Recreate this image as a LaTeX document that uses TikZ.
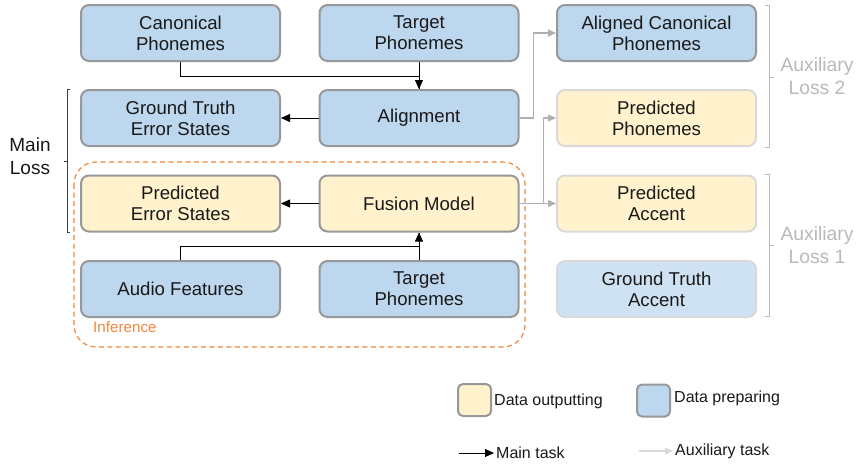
\documentclass[tikz,border=0pt]{standalone}
\usepackage{fontspec}
\setmainfont{Liberation Sans}
\usetikzlibrary{arrows.meta,calc}
\definecolor{bblue}{RGB}{189,215,238}
\definecolor{byellow}{RGB}{255,242,204}
\definecolor{bborder}{RGB}{152,152,152}
\definecolor{lborder}{RGB}{217,217,217}
\definecolor{gtblue}{RGB}{207,226,243}
\definecolor{iorange}{RGB}{240,135,60}
\definecolor{agray}{RGB}{175,175,175}
\definecolor{tgray}{RGB}{185,185,185}
\definecolor{txt}{RGB}{25,25,25}
\tikzset{
  box/.style={draw=bborder, line width=2pt, rounded corners=8pt, minimum width=199pt,
    minimum height=56pt, align=center, inner sep=0pt, text=txt,
    font=\fontsize{18.6}{21}\selectfont},
  lbox/.style={box, draw=lborder},
  mainarr/.style={draw=black, line width=0.8pt, -{Triangle[length=9pt,width=8pt]}},
  mainln/.style={draw=black, line width=0.8pt},
  auxarr/.style={draw=agray, line width=1.2pt, -{Triangle[length=8pt,width=7pt]}},
  bracketm/.style={draw=black!75, line width=0.8pt},
  bracketa/.style={draw=tgray, line width=0.9pt},
  legbox/.style={draw=bborder, line width=2pt, rounded corners=5pt, minimum width=33pt, minimum height=32pt, inner sep=0pt},
  legtxt/.style={font=\fontsize{16}{18}\selectfont, text=txt, inner sep=1pt, anchor=west},
}
\begin{document}
\begin{tikzpicture}[x=1pt,y=-1pt]
\useasboundingbox (0,0) rectangle (859,466);
% row 1
\node[box, fill=bblue] (can) at (180.5,33) {Canonical\\Phonemes};
\node[box, fill=bblue] (tgt1) at (419,33) {Target\\Phonemes};
\node[box, fill=bblue] (acp) at (656.5,33) {Aligned Canonical\\Phonemes};
% row 2
\node[box, fill=bblue] (gtes) at (180.5,118) {Ground Truth\\Error States};
\node[box, fill=bblue] (align) at (419,118) {Alignment};
\node[lbox, fill=byellow] (pp) at (656.5,118) {Predicted\\Phonemes};
% row 3
\node[box, fill=byellow] (pes) at (180.5,203.5) {Predicted\\Error States};
\node[box, fill=byellow] (fusion) at (419,203.5) {Fusion Model};
\node[lbox, fill=byellow] (pa) at (656.5,203.5) {Predicted\\Accent};
% row 4
\node[box, fill=bblue] (audio) at (180.5,289) {Audio Features};
\node[box, fill=bblue] (tgt2) at (419,289) {Target\\Phonemes};
\node[lbox, fill=gtblue] (gta) at (656.5,289) {Ground Truth\\Accent};

% main connectors
\draw[mainarr] (can.south) -- ++(0,14) -| (align.north);
\draw[mainln] (tgt1.south) -- (align.north);
\draw[mainarr] (align.west) -- (gtes.east);
\draw[mainarr] (fusion.west) -- (pes.east);
\draw[mainarr] (audio.north) -- ++(0,-14) -| (fusion.south);
\draw[mainln] (tgt2.north) -- (fusion.south);

% auxiliary connectors
\draw[auxarr] (align.east) -- ++(14,0) |- (acp.west);
\draw[auxarr] (fusion.east) -- ++(24,0) |- (pp.west);
\draw[auxarr] (fusion.east) -- (pa.west);

% inference region
\draw[iorange, line width=1.2pt, dash pattern=on 5pt off 3.5pt, rounded corners=22pt] (74,162) rectangle (525,347);
\node[text=iorange, font=\fontsize{15.2}{17}\selectfont, anchor=west, inner sep=0pt] (inf) at (93,327) {Inference};

% brackets
\draw[bracketm] (70,89) -- (67,89) -- (67,232) -- (70,232);
\draw[bracketm] (67,161) -- (64,161);
\node[font=\fontsize{19}{23}\selectfont, text=txt, align=center] (ml) at (30,156) {Main\\Loss};

\draw[bracketa] (765,5) -- (769,5) -- (769,147) -- (765,147);
\draw[bracketa] (769,77) -- (774,77);
\node[font=\fontsize{19.3}{23}\selectfont, text=tgray, align=center] (al2) at (817,76) {Auxiliary\\Loss 2};

\draw[bracketa] (765,174) -- (769,174) -- (769,316) -- (765,316);
\draw[bracketa] (769,245) -- (774,245);
\node[font=\fontsize{19.3}{23}\selectfont, text=tgray, align=center] (al1) at (817,245) {Auxiliary\\Loss 1};

% legend
\node[legbox, fill=byellow] (lo) at (474.5,400) {};
\node[legtxt] (lot) at (493,401) {Data outputting};
\node[legbox, fill=bblue] (lp) at (653.5,400.5) {};
\node[legtxt] (lpt) at (673,398) {Data preparing};
\coordinate (m1) at (459,453);
\coordinate (m2) at (494,453);
\draw[mainarr] (m1) -- (m2);
\node[legtxt] (mt) at (495,453) {Main task};
\coordinate (a1) at (639,451);
\coordinate (a2) at (673,451);
\draw[auxarr, draw=lborder] (a1) -- (a2);
\node[legtxt] (at) at (674,451) {Auxiliary task};
\end{tikzpicture}
\end{document}
